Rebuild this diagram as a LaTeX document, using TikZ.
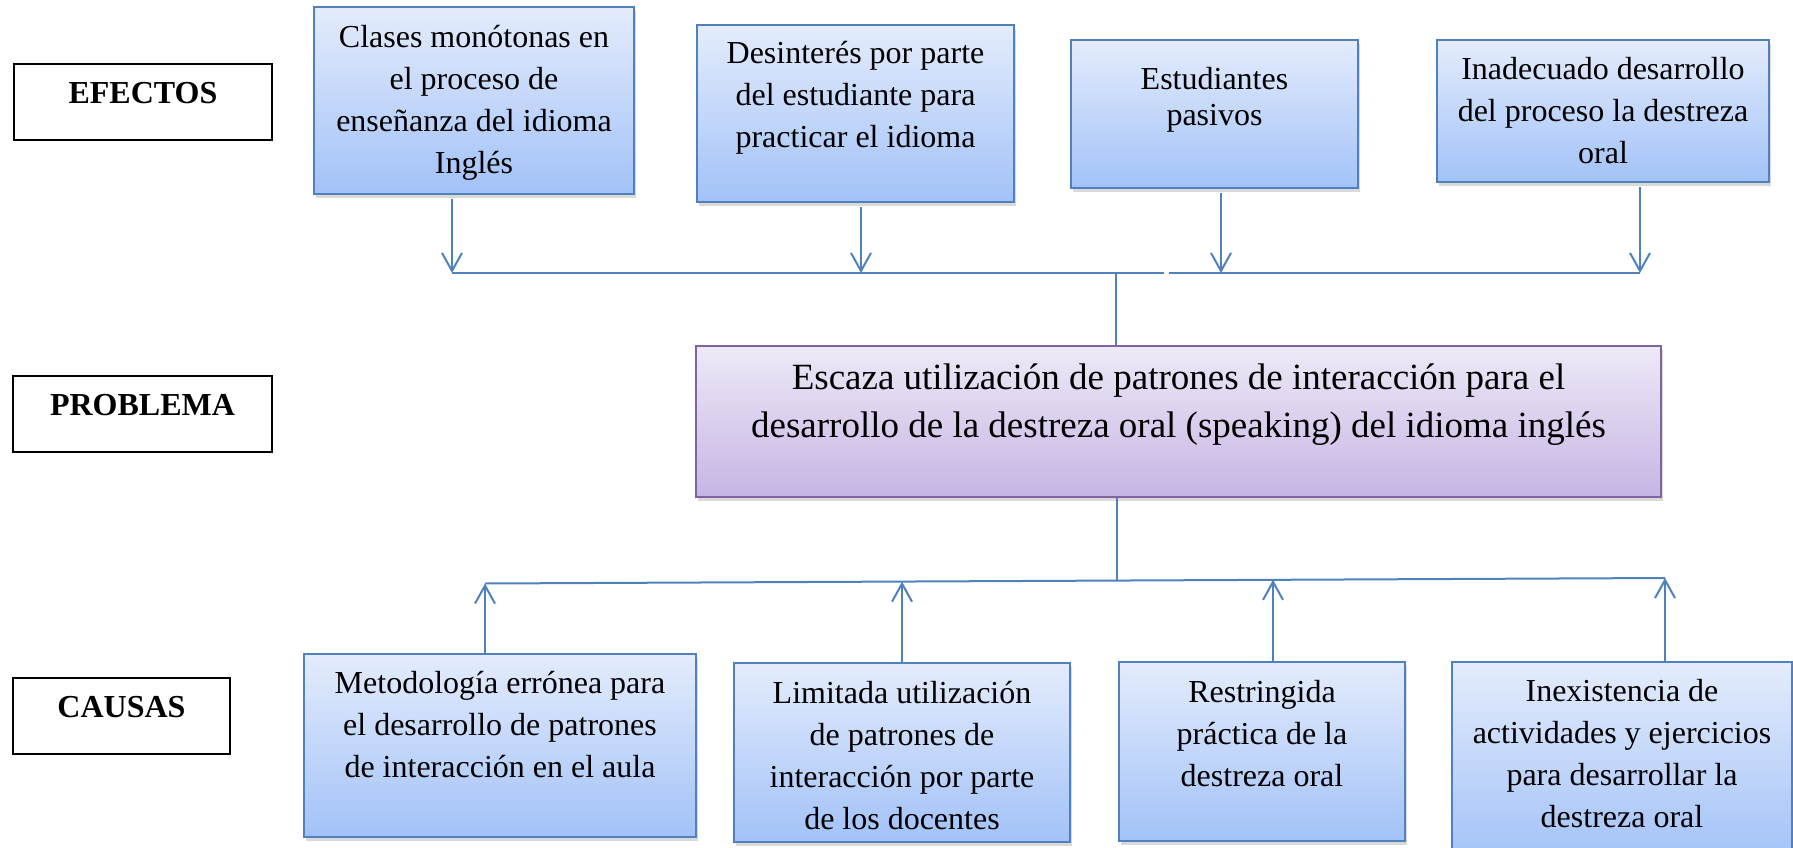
\documentclass[tikz,border=0pt]{standalone}
\usepackage{fontspec}
\setmainfont{Liberation Serif}
\usetikzlibrary{arrows.meta, positioning, shadows}

\definecolor{boxline}{RGB}{79,129,189}
\definecolor{boxtop}{RGB}{228,236,252}
\definecolor{boxbot}{RGB}{162,194,248}
\definecolor{probline}{RGB}{128,100,162}
\definecolor{probtop}{RGB}{238,233,247}
\definecolor{probbot}{RGB}{198,181,228}

\tikzset{
	bluebox/.style={draw=boxline, line width=2.4pt, top color=boxtop, bottom color=boxbot,
		drop shadow={shadow xshift=2pt, shadow yshift=-4pt, opacity=0.3}},
	probbox/.style={draw=probline, line width=2.4pt, top color=probtop, bottom color=probbot,
		drop shadow={shadow xshift=2pt, shadow yshift=-4pt, opacity=0.3}},
	tagbox/.style={draw=black, line width=1.3pt, fill=white},
	boxtext/.style={align=center, inner sep=0pt, font=\fontsize{32}{42}\selectfont},
	tagtext/.style={inner sep=0pt, font=\fontsize{32}{42}\selectfont\bfseries},
	link/.style={draw=boxline, line width=2pt},
	arr/.style={link, -{Straight Barb[length=18pt, width=20pt]}},
}

\begin{document}
\begin{tikzpicture}[x=1pt, y=-1pt]
	\useasboundingbox (0,0) rectangle (1793,848);

	% left labels
	\node[tagbox, minimum width=258pt, minimum height=76pt] (efe) at (143,102) {};
	\node[tagtext, below=10.6pt of efe.north] (efet) {\strut EFECTOS};
	\node[tagbox, minimum width=259pt, minimum height=76pt] (pro) at (142.5,414) {};
	\node[tagtext, below=10.6pt of pro.north] (prot) {\strut PROBLEMA};
	\node[tagbox, minimum width=217pt, minimum height=76pt] (cau) at (121.5,716) {};
	\node[tagtext, below=10.6pt of cau.north] (caut) {\strut CAUSAS};

	% effects
	\node[bluebox, minimum width=320pt, minimum height=187pt] (e1) at (474,100.5) {};
	\node[boxtext, below=11.6pt of e1.north] (e1t) {\strut Clases monótonas en\\el proceso de\\enseñanza del idioma\\Inglés};
	\node[bluebox, minimum width=317pt, minimum height=177pt] (e2) at (855.5,113.5) {};
	\node[boxtext, below=9.6pt of e2.north] (e2t) {\strut Desinterés por parte\\del estudiante para\\practicar el idioma};
	\node[bluebox, minimum width=287pt, minimum height=148pt] (e3) at (1214.5,114) {};
	\node[boxtext, font=\fontsize{32}{36}\selectfont, below=25pt of e3.north] (e3t) {\strut Estudiantes\\pasivos};
	\node[bluebox, minimum width=332pt, minimum height=142pt] (e4) at (1603,111) {};
	\node[boxtext, below=10.6pt of e4.north] (e4t) {\strut Inadecuado desarrollo\\del proceso la destreza\\oral};

	% problem
	\node[probbox, minimum width=965pt, minimum height=151pt] (prob) at (1178.5,421.5) {};
	\node[boxtext, font=\fontsize{37}{48}\selectfont, below=10.4pt of prob.north] (probt) {\strut Escaza utilización de patrones de interacción para el\\desarrollo de la destreza oral (speaking) del idioma inglés};

	% causes
	\node[bluebox, minimum width=392pt, minimum height=183pt] (c1) at (500,745.5) {};
	\node[boxtext, below=10.6pt of c1.north] (c1t) {\strut Metodología errónea para\\el desarrollo de patrones\\de interacción en el aula};
	\node[bluebox, minimum width=336pt, minimum height=179pt] (c2) at (902,752.5) {};
	\node[boxtext, below=11.6pt of c2.north] (c2t) {\strut Limitada utilización\\de patrones de\\interacción por parte\\de los docentes};
	\node[bluebox, minimum width=286pt, minimum height=179pt] (c3) at (1262,751.5) {};
	\node[boxtext, below=11.6pt of c3.north] (c3t) {\strut Restringida\\práctica de la\\destreza oral};
	\node[bluebox, minimum width=340pt, minimum height=200pt] (c4) at (1622,762) {};
	\node[boxtext, below=10.6pt of c4.north] (c4t) {\strut Inexistencia de\\actividades y ejercicios\\para desarrollar la\\destreza oral};

	% top bus
	\coordinate (t1) at (452,273);
	\coordinate (t2) at (861,273);
	\coordinate (t3) at (1221,273);
	\coordinate (t4) at (1640,273);
	\coordinate (tj) at (1116,273);
	\coordinate (gl) at (1164,273);
	\coordinate (gr) at (1169,273);
	\draw[link] (t1) -- (gl);
	\draw[link] (gr) -- (t4);
	\draw[arr, shorten <=4pt] (e1.south -| t1) -- (t1);
	\draw[arr, shorten <=4pt] (e2.south -| t2) -- (t2);
	\draw[arr, shorten <=4pt] (e3.south -| t3) -- (t3);
	\draw[arr, shorten <=4pt] (e4.south -| t4) -- (t4);
	\draw[link, line width=1.5pt] (tj) -- (tj |- prob.north);

	% bottom bus
	\coordinate (b1) at (485,583.5);
	\coordinate (b2) at (902,581.6);
	\coordinate (bj) at (1117,580.6);
	\coordinate (b3) at (1273,579.8);
	\coordinate (b4) at (1665,578);
	\draw[link] (b1) -- (b4);
	\draw[link, line width=1.5pt] (bj |- prob.south) -- (bj);
	\draw[arr] (c1.north -| b1) -- (b1);
	\draw[arr] (c2.north -| b2) -- (b2);
	\draw[arr] (c3.north -| b3) -- (b3);
	\draw[arr] (c4.north -| b4) -- (b4);
\end{tikzpicture}
\end{document}
